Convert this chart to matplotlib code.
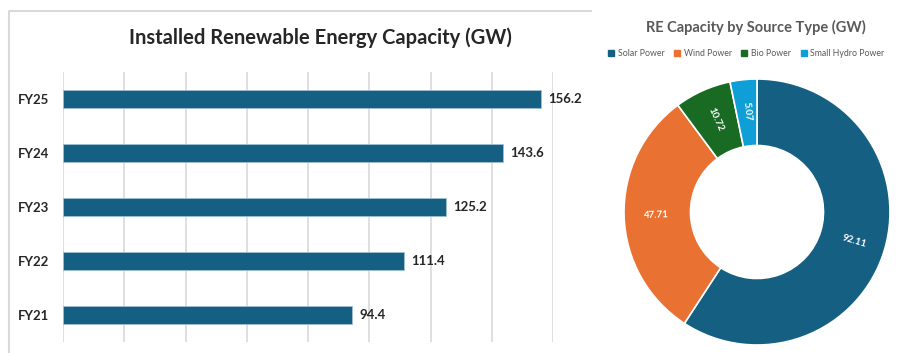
import numpy as np
import matplotlib
matplotlib.use('Agg')
import matplotlib.pyplot as plt
from matplotlib.lines import Line2D

plt.rcParams['font.family'] = ['Lato', 'DejaVu Sans']

# bar chart data
years = ['FY21', 'FY22', 'FY23', 'FY24', 'FY25']
capacity = [94.4, 111.4, 125.2, 143.6, 156.2]

# donut data
sources = ['Solar Power', 'Wind Power', 'Bio Power', 'Small Hydro Power']
source_gw = [92.11, 47.71, 10.72, 5.07]
source_colors = ['#156082', '#E97132', '#196B24', '#0F9ED5']

W, H = 898, 353
fig = plt.figure(figsize=(W / 100, H / 100), dpi=100)
fig.patch.set_facecolor('white')

# light frame round the bar chart (top and left edges only visible)
frame = Line2D([9 / W, 9 / W, 591 / W], [0, 1 - 10.5 / H, 1 - 10.5 / H],
               transform=fig.transFigure, color='#d9d9d9', lw=1.5)
fig.add_artist(frame)

# ---- bar chart ----
ax = fig.add_axes([63 / W, 1 - 342 / H, (553 - 63) / W, (342 - 72) / H])
y = np.arange(len(years))
ax.barh(y, capacity, height=0.34, color='#156082', edgecolor='#9fc0d3',
        linewidth=0.6, zorder=3)
ax.set_xlim(0, 160)
ax.set_ylim(-0.5, len(years) - 0.5)
ax.set_xticks(np.arange(0, 161, 20))
ax.xaxis.grid(True, color='#d9d9d9', lw=1.2)
ax.tick_params(axis='x', length=0, labelbottom=False)
ax.tick_params(axis='y', length=0, pad=10)
ax.set_yticks(y)
ax.set_yticklabels(years, fontsize=9.5, fontweight='bold', color='#262626')
for s in ax.spines.values():
    s.set_visible(False)
for yi, v in zip(y, capacity):
    ax.text(v + 2.3, yi, '%.1f' % v, va='center', ha='left', fontsize=9.5,
            fontweight='bold', color='#262626')

fig.text(320 / W, 1 - 38 / H, 'Installed Renewable Energy Capacity (GW)',
         ha='center', va='center', fontsize=14.5, fontweight='bold',
         color='#262626')

# ---- donut chart ----
cx, cy, r = 757, 212, 133
pax = fig.add_axes([(cx - r) / W, 1 - (cy + r) / H, 2 * r / W, 2 * r / H])
wedges, _ = pax.pie(source_gw, colors=source_colors, startangle=90,
                    counterclock=False,
                    wedgeprops=dict(width=0.5, edgecolor='white', linewidth=1.2))
pax.set_xlim(-1, 1)
pax.set_ylim(-1, 1)
pax.set_aspect('equal')
pax.axis('off')
for w, v in zip(wedges, source_gw):
    mid = np.deg2rad((w.theta1 + w.theta2) / 2)
    rot = np.rad2deg(mid)
    rot = (rot + 180) % 360 - 180
    if rot > 90:
        rot -= 180
    elif rot < -90:
        rot += 180
    pax.text(0.76 * np.cos(mid), 0.76 * np.sin(mid), '%.2f' % v,
             rotation=rot, rotation_mode='anchor', ha='center', va='center',
             fontsize=7, fontweight='bold', color='white')

fig.text(756 / W, 1 - 27 / H, 'RE Capacity by Source Type (GW)',
         ha='center', va='center', fontsize=10.5, fontweight='bold',
         color='#595959')

handles = [Line2D([], [], marker='s', ls='', color=c, markersize=4.3)
           for c in source_colors]
fig.legend(handles, sources, loc='center left',
           bbox_to_anchor=(607 / W, 1 - 54 / H), ncol=4, frameon=False,
           fontsize=6.3, labelcolor='#595959', handlelength=0.9,
           handletextpad=0.3, columnspacing=1.0, borderaxespad=0,
           borderpad=0)

fig.savefig('out.png', dpi=100)
